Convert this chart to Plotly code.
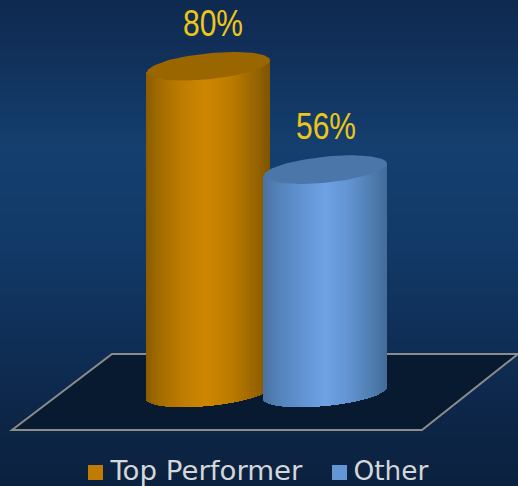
import numpy as np
import plotly.graph_objects as go

categories = ["Top Performer", "Other"]
values = [80, 56]
label_texts = ["80%", "56%"]

W, H = 518, 486
# style / geometry of the 3D look
PX_PER_X = 117.0
PX_PER_Y = 4.31
X0_PX = 208.5
Y0_PX = 411.0
RADIUS = 61.5 / PX_PER_X
ELL_B = 13.0 / PX_PER_Y
ELL_TILT = 6.0 / PX_PER_Y
BASE = 18.0 / PX_PER_Y
N = 124

side = [
    [(0.0, "#8a5c00"), (0.12, "#a56e00"), (0.3, "#bf7d00"), (0.48, "#cd8600"), (0.68, "#bd7c00"), (0.88, "#996500"), (1.0, "#7f5500")],
    [(0.0, "#4a73a3"), (0.15, "#5585bd"), (0.32, "#6293d2"), (0.5, "#6ea2e4"), (0.7, "#6193d0"), (0.88, "#4f7cb0"), (1.0, "#456c9a")],
]
top_col = ["#9a6600", "#4b76aa"]
legend_col = ["#c07c00", "#6496d6"]


def lerp(stops, t):
    ts = [s[0] for s in stops]
    rgb = [[int(s[1][i:i + 2], 16) for s in stops] for i in (1, 3, 5)]
    return "rgb(%d,%d,%d)" % tuple(round(float(np.interp(t, ts, c))) for c in rgb)


def bg(t):
    stops = [(0.0, "#0f2a50"), (0.1, "#112f59"), (0.3, "#143f6e"), (0.5, "#123a68"), (0.72, "#0f2d55"), (0.9, "#0c2444"), (1.0, "#0b2140")]
    return lerp(stops, t)


fig = go.Figure()
shapes = []
step = 3
for y in range(0, H, step):
    shapes.append(dict(type="rect", xref="paper", yref="paper", layer="below",
                       x0=0, x1=1, y0=1 - y / H, y1=1 - min(y + step + 1, H) / H,
                       fillcolor=bg((y + step / 2) / H), line_width=0))
floor = [(12, 430), (112, 354), (518, 354), (422, 430)]
path = "M " + " L ".join(f"{x / W:.4f},{1 - y / H:.4f}" for x, y in floor) + " Z"
shapes.append(dict(type="path", xref="paper", yref="paper", layer="below", path=path,
                   fillcolor="#071a30", line=dict(color="#8c8c8c", width=2)))

for i, (cat, val) in enumerate(zip(categories, values)):
    u = (np.arange(N) + 0.5) / N
    xs = i - RADIUS + 2 * RADIUS * u
    c = (xs - i) / RADIUS
    front = np.sqrt(np.clip(1 - c ** 2, 0, 1))
    low = BASE + ELL_TILT * c - ELL_B * front
    high = val + ELL_TILT * c
    fig.add_trace(go.Bar(x=xs, base=low, y=high - low, width=2 * RADIUS / N * 1.15,
                         marker=dict(color=[lerp(side[i], t) for t in u], line_width=0),
                         name=cat, showlegend=False, hoverinfo="skip"))
    t = np.linspace(0, 2 * np.pi, 121)
    fig.add_trace(go.Scatter(x=i + RADIUS * np.cos(t),
                             y=val + ELL_TILT * np.cos(t) + ELL_B * np.sin(t),
                             mode="lines", fill="toself", fillcolor=top_col[i],
                             line=dict(width=0, color=top_col[i]),
                             showlegend=False, hoverinfo="skip"))

annotations = []
shift = [4, 0]
for i, (val, txt) in enumerate(zip(values, label_texts)):
    annotations.append(dict(x=i, y=val, xref="x", yref="y", text=txt, showarrow=False,
                            xshift=shift[i], yshift=43, yanchor="middle",
                            font=dict(family="Liberation Sans", size=37, color="#efc617")))

leg_sq = [88, 332]
leg_gap = [24.5, 20]
for i, cat in enumerate(categories):
    sq = leg_sq[i]
    shapes.append(dict(type="rect", xref="paper", yref="paper",
                       x0=sq / W, x1=(sq + 15) / W, y0=1 - 480 / H, y1=1 - 465 / H,
                       fillcolor=legend_col[i], line_width=0))
    annotations.append(dict(x=(sq + leg_gap[i]) / W, y=1 - 471 / H, xref="paper", yref="paper", text=cat,
                            showarrow=False, xanchor="left", yanchor="middle",
                            font=dict(family="DejaVu Sans", size=26, color="#d4d6d8")))

fig.update_layout(
    width=W, height=H, margin=dict(l=0, r=0, t=0, b=0), barmode="overlay", bargap=0,
    paper_bgcolor="#0f2a50", plot_bgcolor="rgba(0,0,0,0)", showlegend=False,
    shapes=shapes, annotations=annotations,
    xaxis=dict(visible=False, range=[-X0_PX / PX_PER_X, (W - X0_PX) / PX_PER_X], fixedrange=True),
    yaxis=dict(visible=False, range=[(Y0_PX - H) / PX_PER_Y, Y0_PX / PX_PER_Y], fixedrange=True),
)
post = """
document.documentElement.style.margin='0';
document.body.style.margin='0';
document.body.style.overflow='hidden';
document.querySelectorAll('.annotation-text').forEach(function(el){
  var s = el.textContent, n = null;
  if (s.indexOf('%') >= 0) n = '60';
  else if (s === 'Top Performer') n = '192';
  else if (s === 'Other') n = '75';
  if (n) {
    el.setAttribute('textLength', n);
    el.setAttribute('lengthAdjust', 'spacingAndGlyphs');
  }
});
"""
fig.write_html("out.html", config=dict(displayModeBar=False), post_script=post)
